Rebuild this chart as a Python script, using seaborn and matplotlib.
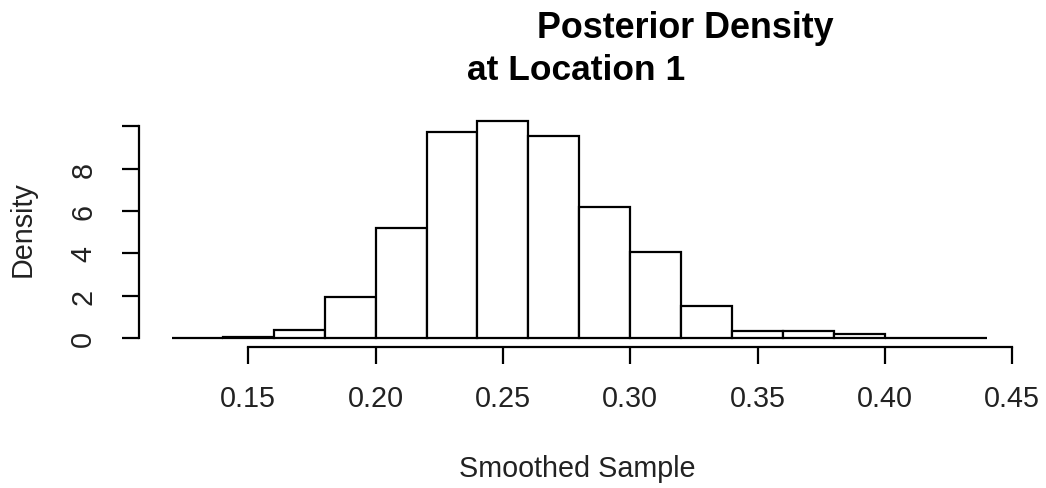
import numpy as np
import matplotlib
matplotlib.use("Agg")
import matplotlib.pyplot as plt
import seaborn as sns

# ---- data ----
bin_edges = [0.12, 0.14, 0.16, 0.18, 0.20, 0.22, 0.24, 0.26, 0.28,
             0.30, 0.32, 0.34, 0.36, 0.38, 0.40, 0.42, 0.44]
densities = [0.0, 0.05, 0.36, 1.94, 5.21, 9.72, 10.24, 9.53, 6.19,
             4.06, 1.49, 0.35, 0.35, 0.19, 0.0, 0.0]
x_ticks = [0.15, 0.20, 0.25, 0.30, 0.35, 0.40, 0.45]
x_tick_labels = ["0.15", "0.20", "0.25", "0.30", "0.35", "0.40", "0.45"]
y_ticks = [0, 2, 4, 6, 8, 10]
y_tick_labels = ["0", "2", "4", "6", "8", ""]
title_line1 = "Posterior Density"
title_line2 = "at Location 1"
x_label = "Smoothed Sample"
y_label = "Density"

sns.set_style("white")
plt.rcParams["font.family"] = ["Liberation Sans", "DejaVu Sans"]
plt.rcParams["text.color"] = "black"

W, H = 1046, 489
fig = plt.figure(figsize=(W / 100, H / 100), dpi=100)
# plot region in pixels: left 139.3, right 1019.4, top 113, bottom 348.3
ax = fig.add_axes([139.3 / W, 1 - 348.3 / H, (1019.4 - 139.3) / W, (348.3 - 113) / H])

mids = (np.array(bin_edges[:-1]) + np.array(bin_edges[1:])) / 2
sns.histplot(x=mids, weights=densities, bins=bin_edges, stat="count",
             color="white", edgecolor="black", linewidth=1.6, alpha=1,
             ax=ax)

ax.set_xlim(0.1072, 0.4528)
ax.set_ylim(-0.44, 10.68)

for s in ["top", "right"]:
    ax.spines[s].set_visible(False)
for s in ["left", "bottom"]:
    ax.spines[s].set_visible(True)
    ax.spines[s].set_color("black")
    ax.spines[s].set_linewidth(1.6)
ax.spines["left"].set_bounds(0, 10)
ax.spines["bottom"].set_bounds(0.15, 0.45)

ax.set_xticks(x_ticks)
ax.set_xticklabels(x_tick_labels)
ax.set_yticks(y_ticks)
ax.set_yticklabels(y_tick_labels, rotation=90, va="center")
ax.tick_params(axis="both", which="major", direction="out", length=12.2,
               width=1.6, color="black", labelsize=20.7, labelcolor="#222222",
               bottom=True, left=True, top=False, right=False)
ax.tick_params(axis="x", pad=14)
ax.tick_params(axis="y", pad=18)
ax.set_xlabel("")
ax.set_ylabel("")
ax.grid(False)

fig.text(685 / W, 1 - 38 / H, title_line1, ha="center", va="baseline",
         fontsize=25.8, fontweight="bold", color="black")
fig.text(576 / W, 1 - 80 / H, title_line2, ha="center", va="baseline",
         fontsize=25.5, fontweight="bold", color="black")
fig.text(577 / W, 1 - 477 / H, x_label, ha="center", va="baseline",
         fontsize=20.7, color="#222222")
fig.text(23 / W, 1 - 229 / H, y_label, ha="center", va="center",
         rotation=90, fontsize=20.7, color="#222222")

fig.savefig("out.png", dpi=100, facecolor="white")
